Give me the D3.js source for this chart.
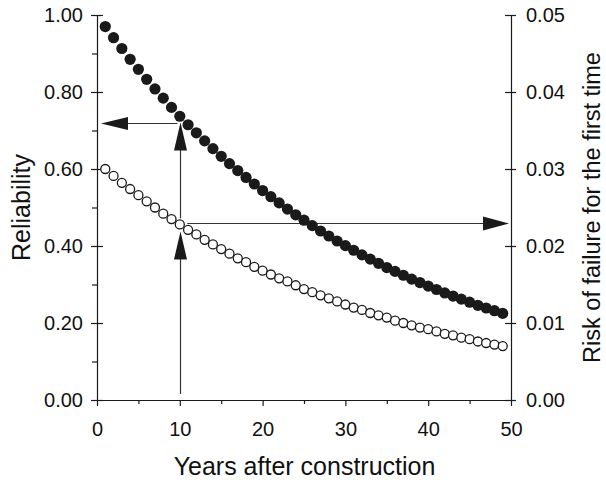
<!DOCTYPE html>
<html>
<head>
<meta charset="utf-8">
<script src="https://cdn.jsdelivr.net/npm/d3@7"></script>
<style>
  html, body { margin: 0; padding: 0; background: #fff; }
  svg { display: block; }
  text { font-family: "Liberation Sans", Arial, Helvetica, sans-serif; fill: #111; }
</style>
</head>
<body>
<svg id="chart" width="606" height="480"></svg>
<script>
// ---- data ----
const years = [1,2,3,4,5,6,7,8,9,10,11,12,13,14,15,16,17,18,19,20,21,22,23,24,25,
               26,27,28,29,30,31,32,33,34,35,36,37,38,39,40,41,42,43,44,45,46,47,48,49];
const reliability = [0.970,0.941,0.913,0.885,0.859,0.833,0.808,0.784,0.760,0.737,
                     0.715,0.694,0.673,0.653,0.633,0.614,0.596,0.578,0.561,0.544,
                     0.528,0.512,0.496,0.481,0.467,0.453,0.439,0.426,0.413,0.401,
                     0.389,0.377,0.366,0.355,0.344,0.334,0.324,0.314,0.305,0.296,
                     0.287,0.278,0.270,0.262,0.254,0.246,0.239,0.232,0.225];
const riskFirst = [0.0300,0.0291,0.0282,0.0274,0.0266,0.0258,0.0250,0.0242,0.0235,0.0228,
                   0.0221,0.0215,0.0208,0.0202,0.0196,0.0190,0.0184,0.0179,0.0173,0.0168,
                   0.0163,0.0158,0.0154,0.0149,0.0144,0.0140,0.0136,0.0132,0.0128,0.0124,
                   0.0120,0.0117,0.0113,0.0110,0.0107,0.0103,0.0100,0.0097,0.0094,0.0092,
                   0.0089,0.0086,0.0084,0.0081,0.0079,0.0076,0.0074,0.0072,0.0070];
const xTicks = [0,10,20,30,40,50];
const xMinorTicks = [5,15,25,35,45];
const yLeftTicks = [0,0.2,0.4,0.6,0.8,1.0];
const yLeftMinorTicks = [0.1,0.3,0.5,0.7,0.9];
const yRightTicks = [0,0.01,0.02,0.03,0.04,0.05];
// annotation: read at year 10
const annoYear = 10;
const annoRel = 0.72;      // level of left-pointing arrow
const annoRisk = 0.023;    // level of right-pointing arrow
const xTitle = "Years after construction";
const yLeftTitle = "Reliability";
const yRightTitle = "Risk of failure for the first time";

// ---- layout ----
const L = 97, R = 511, T = 15, B = 400;
const svg = d3.select("#chart");
const x = d3.scaleLinear().domain([0,50]).range([L,R]);
const yL = d3.scaleLinear().domain([0,1]).range([B,T]);
const yR = d3.scaleLinear().domain([0,0.05]).range([B,T]);
const ink = "#1a1a1a";
const fmt = d3.format(".2f");

function styleAxis(g, showText) {
  g.selectAll("path, line").attr("stroke", ink).attr("stroke-width", 1.2);
  g.selectAll("text").attr("font-size", 20).attr("fill", "#111")
    .attr("font-family", '"Liberation Sans", Arial, sans-serif');
  if (!showText) g.selectAll("text").remove();
  g.attr("font-family", null).attr("font-size", null);
}

// bottom axis
svg.append("g").attr("transform", `translate(0,${B})`)
  .call(d3.axisBottom(x).tickValues(xMinorTicks).tickSize(4).tickSizeOuter(0).tickFormat(""))
  .call(g => { styleAxis(g, false); g.select("path").remove(); });
svg.append("g").attr("transform", `translate(0,${B})`)
  .call(d3.axisBottom(x).tickValues(xTicks).tickSize(6).tickSizeOuter(0).tickPadding(16).tickFormat(d3.format("d")))
  .call(g => styleAxis(g, true));

// left axis
svg.append("g").attr("transform", `translate(${L},0)`)
  .call(d3.axisLeft(yL).tickValues(yLeftMinorTicks).tickSize(5).tickSizeOuter(0).tickFormat(""))
  .call(g => { styleAxis(g, false); g.select("path").remove(); });
svg.append("g").attr("transform", `translate(${L},0)`)
  .call(d3.axisRight(yL).tickValues(yLeftTicks).tickSize(6).tickSizeOuter(0).tickFormat(""))
  .call(g => { styleAxis(g, false); g.select("path").remove(); });
svg.append("g").attr("transform", `translate(${L},0)`)
  .call(d3.axisLeft(yL).tickValues(yLeftTicks).tickSize(6).tickSizeOuter(0).tickPadding(8).tickFormat(fmt))
  .call(g => styleAxis(g, true));

// right axis
svg.append("g").attr("transform", `translate(${R},0)`)
  .call(d3.axisLeft(yR).tickValues(yRightTicks).tickSize(6).tickSizeOuter(0).tickFormat(""))
  .call(g => { styleAxis(g, false); g.select("path").remove(); });
svg.append("g").attr("transform", `translate(${R},0)`)
  .call(d3.axisRight(yR).tickValues(yRightTicks).tickSize(5).tickSizeOuter(0).tickPadding(10).tickFormat(fmt))
  .call(g => styleAxis(g, true));

// titles
svg.append("text").attr("x", (L+R)/2 + 0.5).attr("y", 475)
  .attr("text-anchor", "middle").attr("font-size", 25).text(xTitle);
svg.append("text").attr("transform", `translate(30,${(T+B)/2}) rotate(-90)`)
  .attr("text-anchor", "middle").attr("font-size", 25).text(yLeftTitle);
svg.append("text").attr("transform", `translate(600,${(T+B)/2}) rotate(-90)`)
  .attr("text-anchor", "middle").attr("font-size", 23.5).text(yRightTitle);

// annotation arrows
const ann = svg.append("g").attr("stroke", "#333").attr("stroke-width", 1.2).attr("fill", "none");
const ax = Math.round(x(annoYear)) + 0.5;
const yTop = Math.round(yL(annoRel)) + 0.5;
const yRisk = Math.round(yR(annoRisk)) + 0.5;
const iRel = years.indexOf(annoYear);
const circleBottom = yR(riskFirst[iRel]) + 6;
const circleTop = yR(riskFirst[iRel]) - 6;
function headUp(cx, tipY) {
  return `M${cx},${tipY} L${cx-6.5},${tipY+28} L${cx+6.5},${tipY+28} Z`;
}
// horizontal arrow to left axis
ann.append("line").attr("x1", ax - 3).attr("x2", L + 20).attr("y1", yTop).attr("y2", yTop);
ann.append("path").attr("d", `M${L+4},${yTop} L${L+31},${yTop-6.5} L${L+31},${yTop+6.5} Z`)
  .attr("fill", ink).attr("stroke", "none");
// vertical arrow up to reliability curve
ann.append("line").attr("x1", ax).attr("x2", ax).attr("y1", circleTop).attr("y2", yTop + 10);
ann.append("path").attr("d", headUp(ax, yTop - 1)).attr("fill", ink).attr("stroke", "none");
// vertical arrow from axis up to risk curve
ann.append("line").attr("x1", ax).attr("x2", ax).attr("y1", B - 6).attr("y2", circleBottom + 10);
ann.append("path").attr("d", headUp(ax, circleBottom + 1)).attr("fill", ink).attr("stroke", "none");
// horizontal arrow to right axis
ann.append("line").attr("x1", x(annoYear + 0.9)).attr("x2", R - 20).attr("y1", yRisk).attr("y2", yRisk);
ann.append("path").attr("d", `M${R-2},${yRisk} L${R-28},${yRisk-7} L${R-28},${yRisk+7} Z`)
  .attr("fill", ink).attr("stroke", "none");

// series
svg.append("g").selectAll("circle").data(years).join("circle")
  .attr("cx", d => x(d)).attr("cy", (d,i) => yL(reliability[i]))
  .attr("r", 5.6).attr("fill", ink);
svg.append("g").selectAll("circle").data(years).join("circle")
  .attr("cx", d => x(d)).attr("cy", (d,i) => yR(riskFirst[i]))
  .attr("r", 4.5).attr("fill", "#fff").attr("stroke", ink).attr("stroke-width", 1.3);
</script>
</body>
</html>
